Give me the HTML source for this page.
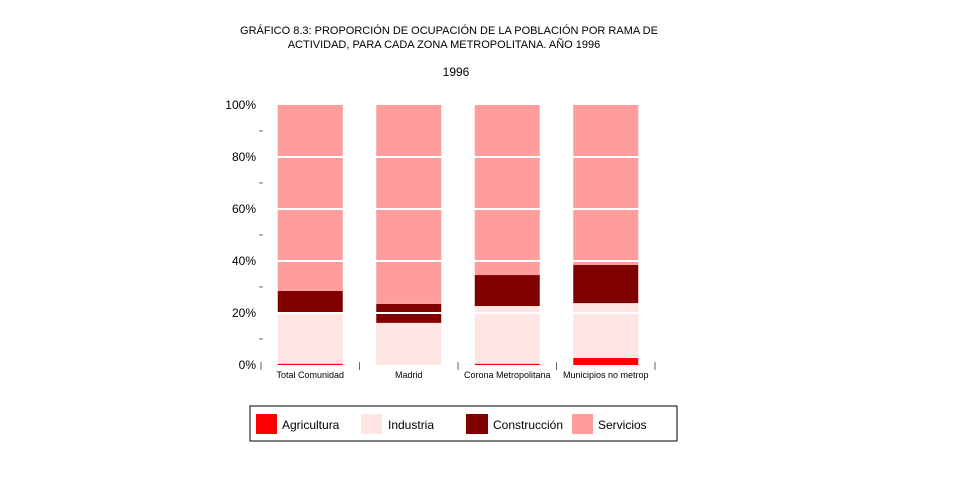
<!DOCTYPE html>
<html><head><meta charset="utf-8"><style>
body{margin:0;background:#fff;font-family:"Liberation Sans",Arial,sans-serif;}
svg text{font-family:"Liberation Sans",Arial,sans-serif;fill:#000;}
</style></head><body>
<svg id="chart" width="962" height="489" xmlns="http://www.w3.org/2000/svg">
<rect width="962" height="489" fill="#fff"/>
<text x="449" y="34" font-size="11" text-anchor="middle">GRÁFICO 8.3: PROPORCIÓN DE OCUPACIÓN DE LA POBLACIÓN POR RAMA DE</text>
<text x="444" y="48" font-size="11" text-anchor="middle">ACTIVIDAD, PARA CADA ZONA METROPOLITANA. AÑO 1996</text>
<text x="456" y="76" font-size="12" text-anchor="middle">1996</text>
<g id="plot"></g>
<g>
<rect x="250" y="406" width="427" height="35" fill="#fff" stroke="#000" stroke-width="1"/>
<rect x="256" y="414" width="21" height="20" fill="#ff0000"/>
<text x="282" y="429" font-size="12">Agricultura</text>
<rect x="361" y="414" width="21" height="20" fill="#ffe4e4"/>
<text x="388" y="429" font-size="12">Industria</text>
<rect x="466" y="414" width="22" height="20" fill="#800000"/>
<text x="493" y="429" font-size="12">Construcción</text>
<rect x="572" y="414" width="21" height="20" fill="#ff9c9c"/>
<text x="598" y="429" font-size="12">Servicios</text>
</g>
</svg>
<script>
const categories = ["Total Comunidad","Madrid","Corona Metropolitana","Municipios no metrop"];
const agricultura = [0.5, 0, 0.5, 2.7];
const industria = [19.3, 16.2, 22.2, 21.1];
const construccion = [8.7, 7.3, 11.9, 14.7];
const servicios = [71.5, 76.5, 65.4, 61.5];
const yTicks = [0,20,40,60,80,100];
const seriesNames = ["agricultura","industria","construccion","servicios"];
const seriesColors = ["#ff0000","#ffe4e4","#800000","#ff9c9c"];
const NS="http://www.w3.org/2000/svg";
const plot=document.getElementById('plot');
const y0=365, y1=105, xl=261, xr=655;
function yScale(v){return y0-(v/100)*(y0-y1);}
const slot=(xr-xl)/categories.length;
function xCenter(i){return xl+slot*(i+0.5);}
function mk(tag,attrs){const e=document.createElementNS(NS,tag);for(const k in attrs)e.setAttribute(k,attrs[k]);plot.appendChild(e);return e;}
const all=[agricultura,industria,construccion,servicios];
categories.forEach((c,i)=>{
  let cum=0;
  all.forEach((s,j)=>{
    const v=s[i];
    const r=mk('rect',{x:xCenter(i)-32.5,y:yScale(cum+v),width:65,height:Math.max(0,yScale(cum)-yScale(cum+v)),fill:seriesColors[j]});
    
    
    cum+=v;
  });
  const t=mk('text',{x:xCenter(i),y:378,'font-size':9,'text-anchor':'middle'});
  t.textContent=c;
  
  
});
yTicks.forEach(v=>{
  if(v>0&&v<100){
    const g=mk('line',{x1:xl+8,x2:xr-8,y1:yScale(v),y2:yScale(v),stroke:'#fff','stroke-width':2});
    
    
  }
  const t=mk('text',{x:256,y:yScale(v)+4,'font-size':12,'text-anchor':'end'});
  t.textContent=v+'%';
  
  
  if(v<100){
    const m=mk('line',{x1:259,x2:263,y1:yScale(v+10),y2:yScale(v+10),stroke:'#666','stroke-width':1});
    
    
  }
});
for(let i=0;i<=categories.length;i++){
  const l=mk('line',{x1:xl+slot*i,x2:xl+slot*i,y1:362,y2:370,stroke:'#666','stroke-width':1});
  
  
}
</script>
</body></html>
